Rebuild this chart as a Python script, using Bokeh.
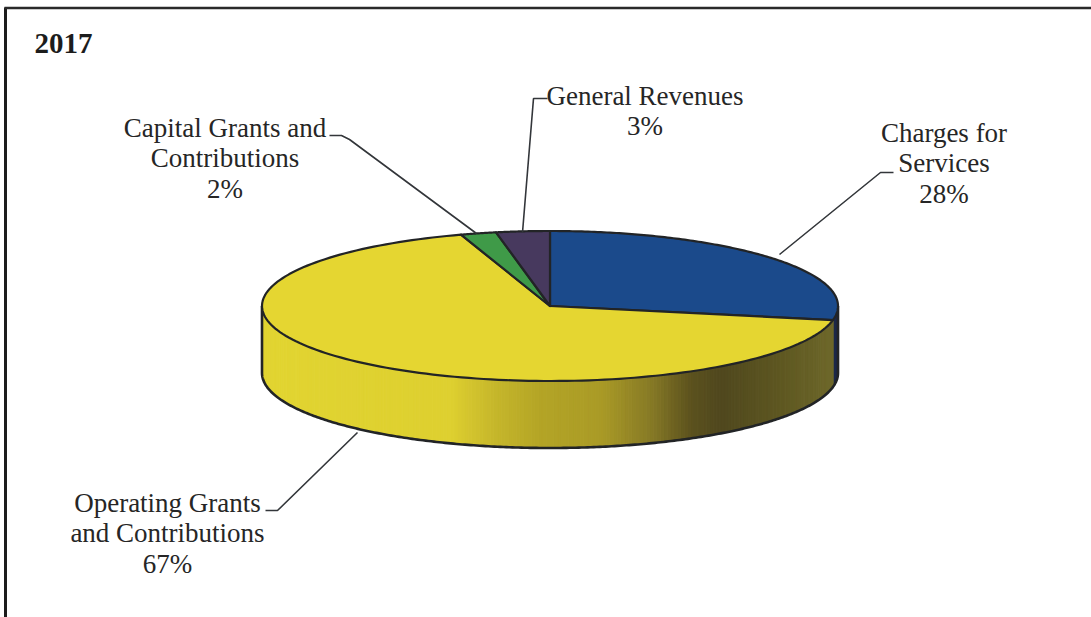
import numpy as np
from bokeh.plotting import figure
from bokeh.models import Range1d
from bokeh.core.properties import value
from bokeh.embed import file_html
from bokeh.resources import INLINE

# --- data -------------------------------------------------------------
title = "2017"
categories = ["Charges for\nServices", "Operating Grants\nand Contributions",
              "Capital Grants and\nContributions", "General Revenues"]
shares = [28, 67, 2, 3]

# --- style / layout ---------------------------------------------------
top_colors = ["#1b4a8b", "#e5d631", "#3f9a48", "#47395e"]
INK = "#222426"
CX, CY, RX, RY, DEPTH = 549.5, 305.5, 288.0, 75.0, 67.0
FONT = "Liberation Serif"
label_centers = [(943.5, 132), (167, 502), (224.5, 127), (644.5, 95)]
LINE_STEP = 30.5
leaders = [
    ([893, 880, 779], [172, 172, 254]),
    ([265, 277, 357], [510, 510, 432]),
    ([329, 341, 349, 476], [135, 135, 139, 233]),
    ([547, 533, 522], [98, 98, 232]),
]
grad_x = [261, 450, 490, 540, 600, 650, 690, 720, 780, 838]
grad_rgb = [(226, 213, 50), (222, 208, 48), (200, 185, 44), (180, 165, 38),
            (170, 155, 38), (135, 122, 38), (92, 82, 30), (80, 72, 30),
            (95, 88, 34), (112, 106, 44)]
BLUE_SIDE = "#1d2a4a"


def rim(theta, dy=0.0):
    """theta clockwise from 12 o'clock, radians -> page coordinates."""
    return CX + RX * np.sin(theta), CY - RY * np.cos(theta) + dy


p = figure(width=1091, height=617, output_backend="svg", toolbar_location=None,
           x_range=Range1d(0, 1091), y_range=Range1d(617, 0),
           min_border=0, outline_line_color=None, background_fill_color="white")
p.axis.visible = False
p.grid.visible = False

# slice boundaries from the values
edges = np.concatenate([[0], np.cumsum(shares)]) / sum(shares) * 2 * np.pi

# side wall: front half of the pie only
side_start, side_end = np.pi / 2, 3 * np.pi / 2
ths = np.linspace(side_start, side_end, 241)
sx, sy, sc = [], [], []
for a, b in zip(ths[:-1], ths[1:]):
    t = np.linspace(a, b, 3)
    x0, y0 = rim(t)
    x1, y1 = rim(t[::-1], DEPTH)
    sx.append(np.concatenate([x0, x1]))
    sy.append(np.concatenate([y0, y1]))
    xm = rim((a + b) / 2)[0]
    if (a + b) / 2 < edges[1]:
        sc.append(BLUE_SIDE)
    else:
        rgb = [int(np.interp(xm, grad_x, [c[i] for c in grad_rgb])) for i in range(3)]
        sc.append("#%02x%02x%02x" % tuple(rgb))
p.patches(sx, sy, fill_color=sc, line_color=sc, line_width=1)

# outline of side wall
t = np.linspace(side_start, side_end, 300)
bx, by = rim(t, DEPTH)
tx0, ty0 = rim(side_start)
tx1, ty1 = rim(side_end)
p.line(np.concatenate([[tx0], bx, [tx1]]), np.concatenate([[ty0], by, [ty1]]),
       line_color=INK, line_width=2.6, line_join="round")

# top face
for i, c in enumerate(top_colors):
    t = np.linspace(edges[i], edges[i + 1], 160)
    x, y = rim(t)
    p.patch(np.concatenate([[CX], x]), np.concatenate([[CY], y]),
            fill_color=c, line_color=INK, line_width=2.2, line_join="round")

# leaders
p.multi_line([l[0] for l in leaders], [l[1] for l in leaders],
             line_color="#33363a", line_width=1.6)

# labels
tx, ty, tt = [], [], []
for name, share, (lx, ly) in zip(categories, shares, label_centers):
    for j, line in enumerate(name.split("\n") + [f"{share}%"]):
        tx.append(lx)
        ty.append(ly + j * LINE_STEP)
        tt.append(line)
p.text(tx, ty, text=tt, text_font=value(FONT), text_font_size="27px",
       text_color="#262626", text_align="center", text_baseline="middle")
p.text([34], [43], text=[title], text_font=value(FONT), text_font_size="29px",
       text_font_style="bold", text_color="#1c1c1c", text_align="left",
       text_baseline="middle")

# frame
p.line([5, 5], [7, 617], line_color="#1c1c1c", line_width=3)
p.line([4, 1091], [7.5, 7.5], line_color="#2a2a2a", line_width=2.5)

open("out.html", "w").write(file_html(p, INLINE))
